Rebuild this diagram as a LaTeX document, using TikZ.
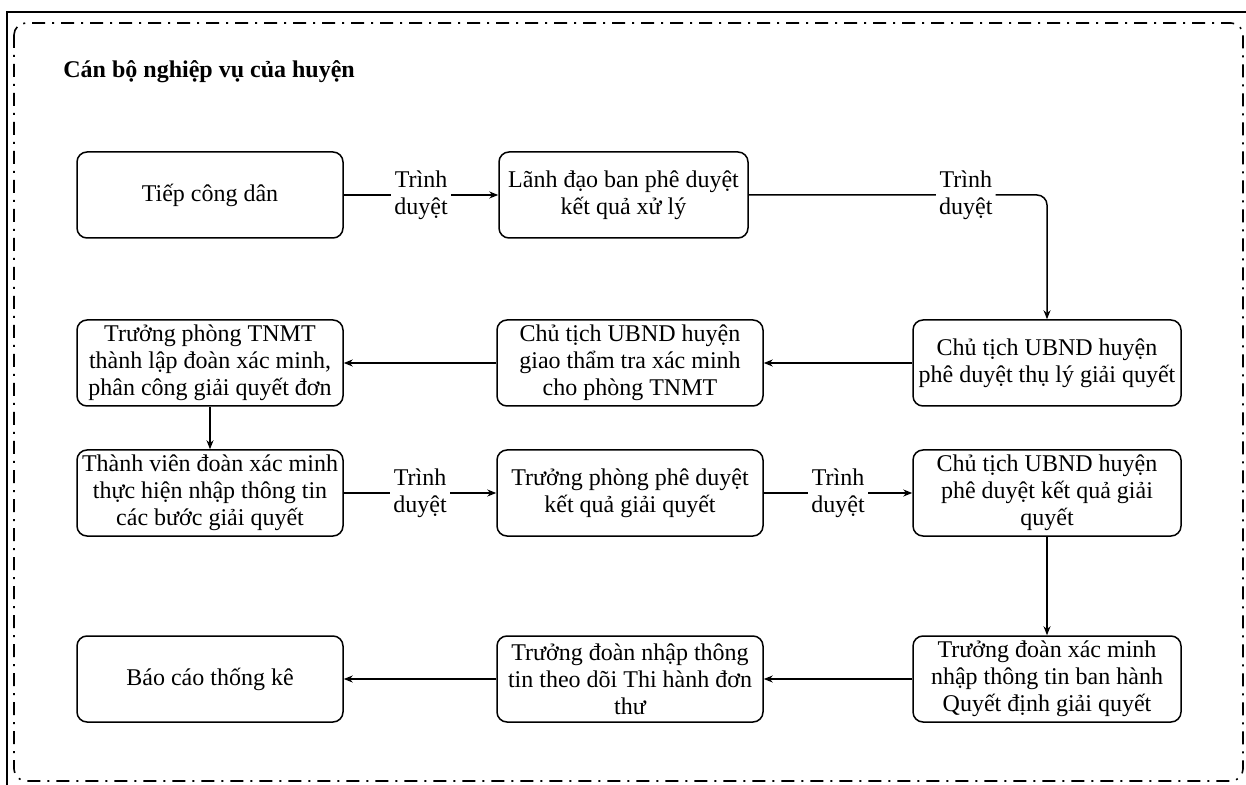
\documentclass[tikz,border=0pt]{standalone}
\usepackage{fontspec}
\setmainfont{Liberation Serif}
\usetikzlibrary{arrows.meta}
\begin{document}
\begin{tikzpicture}[x=0.5pt,y=-0.5pt,
  every node/.style={font=\fontsize{12}{13.6}\selectfont},
  stepbox/.style={draw, line width=0.75pt, rounded corners=5pt, align=center,
    minimum height=43pt, inner sep=0pt},
  lbl/.style={fill=white, align=center, inner sep=1.5pt},
  conn/.style={line width=0.75pt, -{Stealth[length=4.5pt,width=3.5pt]}},
  frame/.style={line width=0.8pt, rounded corners=6pt,
    dash pattern=on 6.5pt off 3.5pt on 1pt off 3.5pt}]
\useasboundingbox (0,0) rectangle (1246,785);
% outer solid frame (cropped)
\draw[line width=0.8pt] (7,785) -- (7,12) -- (1246,12);
% dash-dot group border
\draw[frame] (14,23) rectangle (1243,781);
\node[anchor=west, inner xsep=0pt, font=\fontsize{12}{13.6}\selectfont\bfseries] (title) at (63,72) {Cán bộ nghiệp vụ của huyện};
% row 1
\node[stepbox, minimum width=133pt] (a) at (210,195) {Tiếp công dân};
\node[stepbox, minimum width=124.5pt] (b) at (623.5,195) {Lãnh đạo ban phê duyệt\\kết quả xử lý};
% row 2
\node[stepbox, minimum width=134pt] (c) at (1047,363) {Chủ tịch UBND huyện\\phê duyệt thụ lý giải quyết};
\node[stepbox, minimum width=133pt] (d) at (630,363) {Chủ tịch UBND huyện\\giao thẩm tra xác minh\\cho phòng TNMT};
\node[stepbox, minimum width=133pt] (e) at (210,363) {Trưởng phòng TNMT\\thành lập đoàn xác minh,\\phân công giải quyết đơn};
% row 3
\node[stepbox, minimum width=133pt] (f) at (210,493) {Thành viên đoàn xác minh\\thực hiện nhập thông tin\\các bước giải quyết};
\node[stepbox, minimum width=133pt] (g) at (630,493) {Trưởng phòng phê duyệt\\kết quả giải quyết};
\node[stepbox, minimum width=134pt] (h) at (1047,493) {Chủ tịch UBND huyện\\phê duyệt kết quả giải\\quyết};
% row 4
\node[stepbox, minimum width=134pt] (i) at (1047,679) {Trưởng đoàn xác minh\\nhập thông tin ban hành\\Quyết định giải quyết};
\node[stepbox, minimum width=133pt] (j) at (630,679) {Trưởng đoàn nhập thông\\tin theo dõi Thi hành đơn\\thư};
\node[stepbox, minimum width=133pt] (k) at (210,679) {Báo cáo thống kê};
% connectors
\draw[conn] (a) -- node[lbl] {Trình\\duyệt} (b);
\coordinate (bc) at (1047,195);
\draw[conn, rounded corners=5pt] (b.east) -- node[lbl, pos=0.728] {Trình\\duyệt} (bc) -- (c.north);
\draw[conn] (c) -- (d);
\draw[conn] (d) -- (e);
\draw[conn] (e) -- (f);
\draw[conn] (f) -- node[lbl] {Trình\\duyệt} (g);
\draw[conn] (g) -- node[lbl] {Trình\\duyệt} (h);
\draw[conn] (h) -- (i);
\draw[conn] (i) -- (j);
\draw[conn] (j) -- (k);
\end{tikzpicture}
\end{document}
